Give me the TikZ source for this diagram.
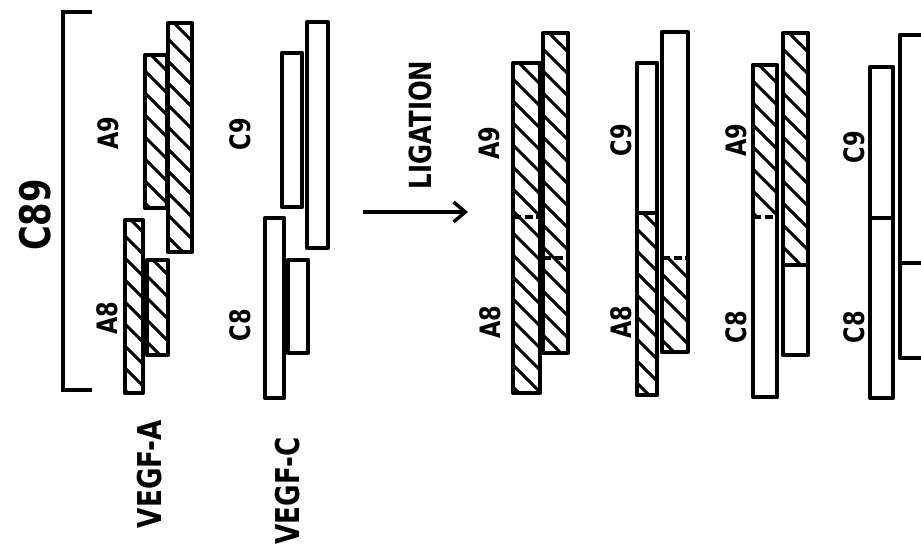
\documentclass[tikz,border=0pt]{standalone}
\usepackage{fontspec}
\usepackage{tikz}
\usetikzlibrary{arrows,arrows.meta}
\newfontfamily\plotfont[FakeStretch=0.8]{DejaVu Sans Bold}

\newcommand{\hatchfill}[4]{%
  \begin{scope}
    \clip (#1,#2) rectangle (#3,#4);
    \foreach \k in {0,...,17}
      \draw [hatch] (#1-2,#2-30+\k*22) -- ++(34,34);
  \end{scope}}

\begin{document}
\begin{tikzpicture}[x=0.03cm,y=-0.03cm]
\tikzstyle{every node}+=[inner sep=0pt, font=\plotfont]
\tikzstyle{bar}=[black, line width=3.6pt, line join=round]
\tikzstyle{hatch}=[black, line width=2.6pt]
\tikzstyle{joint}=[black, line width=2.6pt, dash pattern=on 7pt off 3pt]
\tikzstyle{seam}=[black, line width=2.6pt]
\tikzstyle{lbl}=[rotate=90, font=\plotfont\fontsize{24}{24}\selectfont]
\tikzstyle{big}=[rotate=90, font=\plotfont\fontsize{28}{28}\selectfont]
\useasboundingbox (0,0) rectangle (921,552);
\clip (0,0) rectangle (921,552);
\draw [black, line width=3.4pt] (92,12) -- (63,12) -- (63,390) -- (92,390);
\node [rotate=90, font=\plotfont\fontsize{36}{36}\selectfont] (c89) at (35,215) {C89};
\hatchfill{125}{220}{143}{393}
\draw [bar] (125,220) rectangle (143,393);
\hatchfill{147}{260}{168}{355}
\draw [bar] (147,260) rectangle (168,355);
\hatchfill{145}{55}{167}{208}
\draw [bar] (145,55) rectangle (167,208);
\hatchfill{168}{23}{192}{252}
\draw [bar] (168,23) rectangle (192,252);
\node [lbl] (a9) at (108,133) {A9};
\node [lbl] (a8) at (107,318) {A8};
\node [big] (vegfa) at (150,474) {VEGF-A};
\draw [bar] (265,218) rectangle (284,398);
\draw [bar] (288,260) rectangle (308,353);
\draw [bar] (282,53) rectangle (302,207);
\draw [bar] (307,22) rectangle (328,248);
\node [lbl] (c9) at (240,134) {C9};
\node [lbl] (c8) at (240,325) {C8};
\node [big] (vegfc) at (288,491) {VEGF-C};
\coordinate (ligfrom) at (363,212);
\coordinate (ligto) at (468,212);
\draw [black, line width=3pt, -{Straight Barb[length=10pt,width=17pt,line width=3pt]}] (ligfrom) -- (ligto);
\node [big, font=\plotfont\fontsize{26}{26}\selectfont] (ligation) at (420,125) {LIGATION};
\hatchfill{513}{63}{540}{393}
\draw [bar] (513,63) rectangle (540,393);
\draw [joint] (513,217) -- (540,217);
\hatchfill{543}{33}{568}{353}
\draw [bar] (543,33) rectangle (568,353);
\draw [joint] (543,258) -- (568,258);
\node [lbl] (a9x) at (489,143) {A9};
\node [lbl] (a8x) at (490,322) {A8};
\hatchfill{637}{213}{657}{395}
\draw [bar] (637,63) rectangle (657,395);
\draw [seam] (637,213) -- (657,213);
\hatchfill{662}{258}{688}{352}
\draw [bar] (662,32) rectangle (688,352);
\draw [joint] (662,258) -- (688,258);
\node [lbl] (c9y) at (621,140) {C9};
\node [lbl] (a8y) at (621,322) {A8};
\hatchfill{753}{65}{777}{217}
\draw [bar] (753,65) rectangle (777,397);
\draw [joint] (753,217) -- (777,217);
\hatchfill{783}{33}{808}{265}
\draw [bar] (783,33) rectangle (808,355);
\draw [seam] (783,265) -- (808,265);
\node [lbl] (a9z) at (736,140) {A9};
\node [lbl] (c8z) at (736,327) {C8};
\draw [bar] (870,67) rectangle (893,398);
\draw [seam] (870,218) -- (893,218);
\draw [bar] (900,35) rectangle (930,358);
\draw [seam] (900,263) -- (930,263);
\node [lbl] (c9w) at (854,147) {C9};
\node [lbl] (c8w) at (854,327) {C8};
\end{tikzpicture}
\end{document}
